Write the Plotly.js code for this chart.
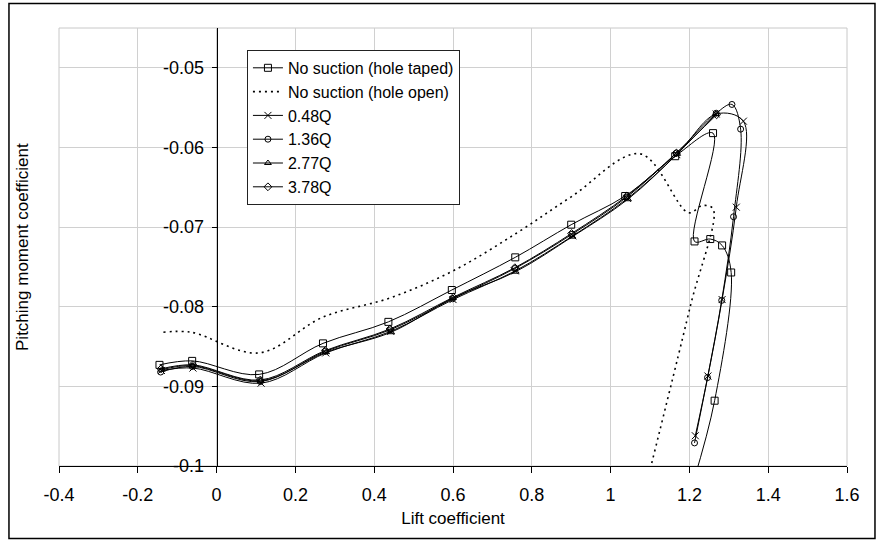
<!DOCTYPE html>
<html>
<head>
<meta charset="utf-8">
<script src="https://cdn.plot.ly/plotly-3.0.1.min.js"></script>
<style>
  html, body { margin: 0; padding: 0; background: #ffffff; }
  #chart { width: 878px; height: 540px; }
</style>
</head>
<body>
<div id="chart"></div>
<script>
// ---- Data ----
const seriesNames = ["No suction (hole taped)", "No suction (hole open)", "0.48Q", "1.36Q", "2.77Q", "3.78Q"];

const liftTaped = [-0.145, -0.062, 0.108, 0.270, 0.436, 0.597, 0.758, 0.900, 1.037, 1.164, 1.260, 1.213, 1.253, 1.283, 1.306, 1.264, 1.210];
const cmTaped   = [-0.0873, -0.0868, -0.0885, -0.0846, -0.0819, -0.0779, -0.0738, -0.0697, -0.0661, -0.0611, -0.0582, -0.0718, -0.0715, -0.0723, -0.0757, -0.0918, -0.1020];

const liftOpen = [-0.135, -0.065, 0.108, 0.270, 0.440, 0.600, 0.760, 0.900, 1.075, 1.198, 1.232, 1.260, 1.202, 1.090];
const cmOpen   = [-0.0832, -0.0832, -0.0858, -0.0813, -0.0789, -0.0755, -0.0708, -0.0662, -0.0608, -0.0682, -0.0673, -0.0677, -0.0800, -0.1025];

const lift048 = [-0.140, -0.060, 0.113, 0.277, 0.442, 0.600, 0.758, 0.904, 1.043, 1.168, 1.268, 1.337, 1.319, 1.283, 1.247, 1.215];
const cm048   = [-0.0880, -0.0877, -0.0896, -0.0858, -0.0831, -0.0791, -0.0755, -0.0711, -0.0664, -0.0609, -0.0558, -0.0567, -0.0675, -0.0791, -0.0887, -0.0962];

const lift136 = [-0.142, -0.062, 0.111, 0.276, 0.441, 0.599, 0.757, 0.902, 1.042, 1.167, 1.268, 1.308, 1.330, 1.312, 1.282, 1.246, 1.213];
const cm136   = [-0.0882, -0.0875, -0.0894, -0.0856, -0.0829, -0.0790, -0.0752, -0.0709, -0.0662, -0.0607, -0.0557, -0.0546, -0.0577, -0.0687, -0.0792, -0.0889, -0.0971];

const lift277 = [-0.139, -0.061, 0.112, 0.278, 0.443, 0.600, 0.759, 0.903, 1.044, 1.169, 1.267];
const cm277   = [-0.0879, -0.0874, -0.0893, -0.0857, -0.0832, -0.0789, -0.0756, -0.0712, -0.0665, -0.0608, -0.0558];

const lift378 = [-0.141, -0.061, 0.111, 0.276, 0.440, 0.601, 0.757, 0.901, 1.041, 1.167, 1.269];
const cm378   = [-0.0878, -0.0873, -0.0892, -0.0855, -0.0828, -0.0788, -0.0751, -0.0708, -0.0661, -0.0607, -0.0559];

const xTickVals = [-0.4, -0.2, 0, 0.2, 0.4, 0.6, 0.8, 1, 1.2, 1.4, 1.6];
const xTickText = ["-0.4", "-0.2", "0", "0.2", "0.4", "0.6", "0.8", "1", "1.2", "1.4", "1.6"];
const yTickVals = [-0.1, -0.09, -0.08, -0.07, -0.06, -0.05];
const yTickText = ["-0.1", "-0.09", "-0.08", "-0.07", "-0.06", "-0.05"];

const xTitle = "Lift coefficient";
const yTitle = "Pitching moment coefficient";

// ---- Traces ----
const FONT = "Liberation Sans, Arial, Helvetica, sans-serif";
const lineBase = { color: "#000000", width: 1, shape: "spline", smoothing: 1 };
function mk(symbol, size) {
  return { symbol: symbol, size: size, color: "#000000", line: { color: "#000000", width: 1 } };
}

const traces = [
  { x: liftTaped, y: cmTaped, name: seriesNames[0], mode: "lines+markers", line: lineBase, marker: mk("square-open", 7) },
  { x: liftOpen, y: cmOpen, name: seriesNames[1], mode: "lines",
    line: { color: "#000000", width: 1.6, shape: "spline", smoothing: 1, dash: "2px,4px" } },
  { x: lift048, y: cm048, name: seriesNames[2], mode: "lines+markers", line: lineBase, marker: mk("x-thin", 7) },
  { x: lift136, y: cm136, name: seriesNames[3], mode: "lines+markers", line: lineBase, marker: mk("circle-open", 6) },
  { x: lift277, y: cm277, name: seriesNames[4], mode: "lines+markers", line: lineBase, marker: mk("triangle-up-open", 6) },
  { x: lift378, y: cm378, name: seriesNames[5], mode: "lines+markers", line: lineBase, marker: mk("diamond-open", 6) }
];

const layout = {
  width: 878,
  height: 540,
  margin: { l: 59, r: 31, t: 28, b: 74, pad: 0 },
  paper_bgcolor: "#ffffff",
  plot_bgcolor: "#ffffff",
  font: { family: FONT, size: 18, color: "#000000" },
  showlegend: true,
  legend: {
    x: 0.2385, y: 0.95, xanchor: "left", yanchor: "top",
    bgcolor: "#ffffff", bordercolor: "#222222", borderwidth: 1,
    font: { family: FONT, size: 16, color: "#000000" },
    tracegroupgap: 0, itemwidth: 30
  },
  xaxis: {
    range: [-0.4, 1.6],
    tickmode: "array", tickvals: xTickVals, ticktext: xTickText,
    showgrid: true, gridcolor: "#d0d0d0", gridwidth: 1,
    zeroline: false,
    showline: true, linecolor: "#000000", linewidth: 1,
    ticks: "outside", ticklen: 6, tickcolor: "#000000", tickwidth: 1,
    ticklabelstandoff: 6,
    tickfont: { family: FONT, size: 18, color: "#000000" },
    title: { text: xTitle, font: { family: FONT, size: 17, color: "#000000" }, standoff: 8 },
    fixedrange: true
  },
  yaxis: {
    range: [-0.1, -0.045],
    anchor: "free", position: 0.2,
    tickmode: "array", tickvals: yTickVals, ticktext: yTickText,
    showgrid: true, gridcolor: "#d0d0d0", gridwidth: 1,
    zeroline: false,
    showline: true, linecolor: "#000000", linewidth: 1,
    ticks: "outside", ticklen: 5, tickcolor: "#000000", tickwidth: 1,
    ticklabelstandoff: 4,
    tickfont: { family: FONT, size: 18, color: "#000000" },
    fixedrange: true
  },
  annotations: [
    { text: yTitle, xref: "paper", yref: "paper", x: -0.047, y: 0.5,
      xanchor: "center", yanchor: "middle", textangle: -90, showarrow: false,
      font: { family: FONT, size: 17, color: "#000000" } }
  ],
  shapes: [
    { type: "rect", xref: "paper", yref: "paper", x0: 0, x1: 1, y0: 0, y1: 1,
      line: { color: "#c8c8c8", width: 1 }, fillcolor: "rgba(0,0,0,0)", layer: "below" },
    { type: "rect", xref: "paper", yref: "paper", x0: -0.0635, x1: 1.0355, y0: -0.1655, y1: 1.056,
      line: { color: "#000000", width: 1.5 }, fillcolor: "rgba(0,0,0,0)", layer: "above" }
  ]
};

Plotly.newPlot("chart", traces, layout, { displayModeBar: false, staticPlot: true });
</script>
</body>
</html>
